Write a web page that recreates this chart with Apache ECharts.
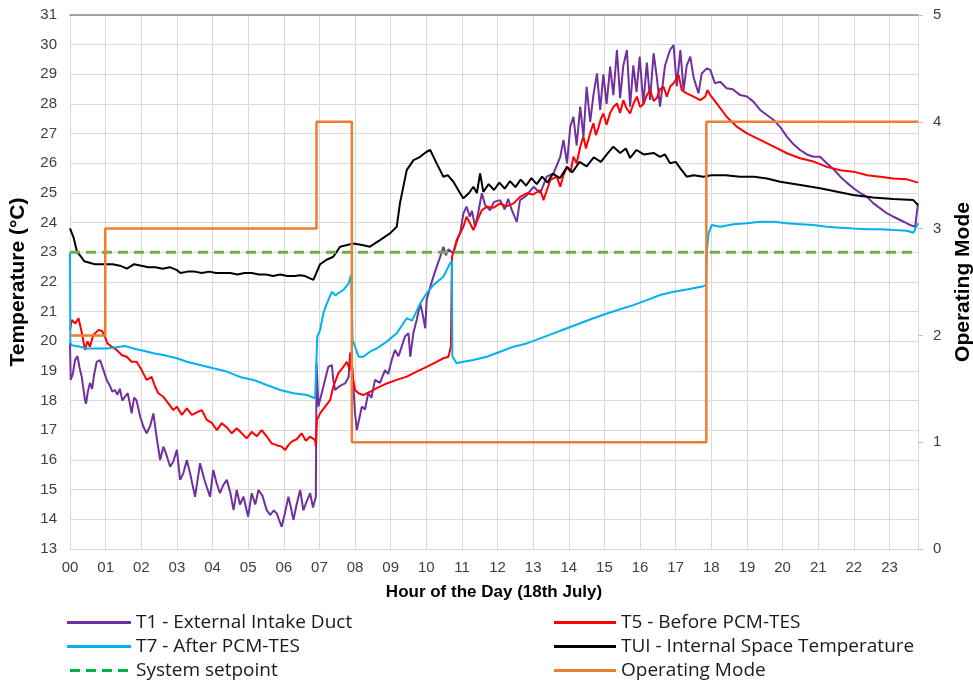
<!DOCTYPE html>
<html><head><meta charset="utf-8">
<script src="https://cdn.jsdelivr.net/npm/echarts@6/dist/echarts.min.js"></script>
<style>html,body{margin:0;padding:0;background:#fff}#c{width:973px;height:683px}</style>
</head><body><div id="c"></div>
<script>
// ---- data (hours, °C) ----
const hourTicks = ['00','01','02','03','04','05','06','07','08','09','10','11','12','13','14','15','16','17','18','19','20','21','22','23'];
const T1 = [[0,19.94],[0.02,18.7],[0.08,18.9],[0.14,19.37],[0.21,19.5],[0.27,19.1],[0.33,18.8],[0.42,18.02],[0.45,17.9],[0.5,18.3],[0.56,18.6],[0.62,18.4],[0.68,18.9],[0.75,19.31],[0.84,19.37],[0.94,19.03],[1.03,18.7],[1.12,18.5],[1.19,18.3],[1.26,18.36],[1.33,18.2],[1.4,18.4],[1.47,18.0],[1.54,18.13],[1.62,18.25],[1.68,17.9],[1.73,17.57],[1.8,18.1],[1.87,18.0],[1.97,17.46],[2.06,17.12],[2.15,16.9],[2.25,17.15],[2.34,17.57],[2.43,16.78],[2.53,16.0],[2.62,16.45],[2.7,16.2],[2.81,15.77],[2.9,15.95],[3.0,16.34],[3.09,15.33],[3.18,15.55],[3.28,16.0],[3.38,15.5],[3.51,14.76],[3.65,15.89],[3.78,15.3],[3.93,14.76],[4.02,15.66],[4.12,15.2],[4.21,14.88],[4.3,15.15],[4.4,15.33],[4.5,14.9],[4.59,14.31],[4.68,14.99],[4.77,14.5],[4.87,14.76],[5.0,14.09],[5.1,14.88],[5.2,14.5],[5.29,14.99],[5.4,14.8],[5.52,14.31],[5.62,14.15],[5.72,14.3],[5.8,14.2],[5.94,13.75],[6.03,14.2],[6.13,14.76],[6.2,14.4],[6.27,13.98],[6.36,14.5],[6.46,14.99],[6.55,14.3],[6.64,14.6],[6.74,14.88],[6.82,14.4],[6.9,14.76],[6.92,19.26],[6.97,17.8],[7.11,18.47],[7.25,19.14],[7.35,19.2],[7.39,18.7],[7.44,18.36],[7.58,18.5],[7.72,18.58],[7.82,18.8],[7.86,19.6],[7.91,19.3],[8.0,17.57],[8.05,17.01],[8.12,17.4],[8.19,17.8],[8.28,17.7],[8.37,18.25],[8.46,18.1],[8.56,18.7],[8.7,18.6],[8.84,19.03],[8.93,18.9],[9.03,19.37],[9.12,19.71],[9.22,19.5],[9.31,19.82],[9.4,20.16],[9.5,20.27],[9.55,19.48],[9.64,20.3],[9.73,20.72],[9.83,21.28],[9.9,20.9],[9.97,20.44],[10.01,21.39],[10.11,21.84],[10.2,22.18],[10.29,22.51],[10.39,22.85],[10.48,23.19],[10.55,22.9],[10.62,23.1],[10.76,22.97],[10.85,23.41],[10.95,23.64],[11.04,24.31],[11.13,24.54],[11.22,24.2],[11.28,24.4],[11.37,23.86],[11.45,24.3],[11.56,24.99],[11.65,24.6],[11.79,24.42],[11.9,24.7],[12.07,24.76],[12.2,24.45],[12.3,24.8],[12.4,24.42],[12.54,24.03],[12.63,24.76],[12.8,24.9],[13.01,25.21],[13.2,25.0],[13.38,25.55],[13.57,25.66],[13.76,26.22],[13.85,26.79],[13.95,26.0],[14.04,27.23],[14.13,27.57],[14.22,26.6],[14.32,27.91],[14.41,26.9],[14.5,28.58],[14.6,27.4],[14.69,28.3],[14.79,29.03],[14.88,27.8],[14.97,29.0],[15.06,28.0],[15.16,29.26],[15.25,28.3],[15.35,29.82],[15.44,28.2],[15.53,29.3],[15.63,29.82],[15.72,27.91],[15.81,29.3],[15.9,28.4],[15.99,29.6],[16.09,28.0],[16.19,29.4],[16.28,28.14],[16.38,29.71],[16.47,28.9],[16.56,27.91],[16.7,29.3],[16.84,29.82],[16.94,29.99],[17.03,28.6],[17.13,29.82],[17.22,28.47],[17.31,29.3],[17.41,29.6],[17.5,28.9],[17.64,28.36],[17.73,29.03],[17.87,29.2],[17.97,29.15],[18.1,28.7],[18.25,28.75],[18.43,28.53],[18.6,28.5],[18.81,28.3],[19.0,28.25],[19.18,28.08],[19.37,27.8],[19.56,27.63],[19.75,27.46],[19.93,27.23],[20.12,26.9],[20.3,26.65],[20.49,26.45],[20.68,26.3],[20.87,26.22],[21.05,26.22],[21.24,26.0],[21.43,25.8],[21.62,25.55],[21.8,25.35],[21.99,25.16],[22.18,25.0],[22.37,24.87],[22.55,24.65],[22.74,24.48],[22.93,24.31],[23.11,24.2],[23.3,24.09],[23.45,24.0],[23.58,23.92],[23.72,23.86],[23.8,24.65]];
const T5 = [[0,20.38],[0.05,20.72],[0.15,20.6],[0.24,20.78],[0.33,20.3],[0.42,19.71],[0.49,20.0],[0.56,19.82],[0.65,20.21],[0.8,20.38],[0.9,20.35],[0.98,20.16],[1.05,19.93],[1.17,19.82],[1.31,19.71],[1.45,19.54],[1.59,19.48],[1.73,19.31],[1.87,19.31],[2.01,19.03],[2.15,18.7],[2.29,18.8],[2.39,18.47],[2.48,18.25],[2.62,18.13],[2.76,17.91],[2.9,17.68],[3.0,17.8],[3.14,17.52],[3.28,17.74],[3.42,17.52],[3.55,17.6],[3.7,17.68],[3.84,17.35],[3.98,17.25],[4.12,17.01],[4.26,17.24],[4.4,17.1],[4.54,16.9],[4.68,17.07],[4.82,16.9],[4.96,16.73],[5.1,16.95],[5.24,16.8],[5.38,17.01],[5.52,16.8],[5.66,16.56],[5.8,16.5],[5.94,16.45],[6.04,16.34],[6.13,16.5],[6.22,16.62],[6.36,16.7],[6.5,16.9],[6.62,16.65],[6.74,16.79],[6.88,16.67],[6.9,16.45],[6.93,17.35],[7.02,17.57],[7.16,17.8],[7.3,18.02],[7.39,18.47],[7.53,18.92],[7.67,19.14],[7.77,19.31],[7.86,19.03],[7.88,19.65],[7.95,18.7],[8.0,18.36],[8.1,18.25],[8.23,18.19],[8.42,18.3],[8.61,18.42],[8.89,18.58],[9.17,18.7],[9.45,18.81],[9.73,18.98],[10.01,19.14],[10.29,19.31],[10.48,19.43],[10.62,19.48],[10.69,19.82],[10.72,22.85],[10.81,23.19],[10.9,23.53],[11.04,23.86],[11.13,24.2],[11.22,24.0],[11.32,23.75],[11.44,24.1],[11.56,24.42],[11.7,24.54],[11.88,24.5],[12.07,24.65],[12.25,24.55],[12.45,24.65],[12.63,24.87],[12.82,24.99],[13.0,24.95],[13.2,25.1],[13.29,24.76],[13.48,25.44],[13.66,25.55],[13.76,25.21],[13.85,25.6],[13.95,25.88],[14.05,25.7],[14.13,26.22],[14.22,26.0],[14.32,26.56],[14.41,26.9],[14.48,26.5],[14.55,26.8],[14.62,27.1],[14.69,27.35],[14.76,26.95],[14.83,27.2],[14.9,27.5],[14.97,27.68],[15.06,27.3],[15.16,27.7],[15.25,27.9],[15.35,28.02],[15.44,27.7],[15.53,28.13],[15.62,27.85],[15.72,27.68],[15.81,28.0],[15.91,28.25],[16.0,27.9],[16.1,28.0],[16.19,28.3],[16.28,28.47],[16.38,28.1],[16.47,28.2],[16.56,28.5],[16.66,28.58],[16.75,28.25],[16.85,28.6],[16.94,28.7],[17.08,28.98],[17.17,28.47],[17.31,28.36],[17.5,28.25],[17.69,28.13],[17.83,28.25],[17.89,28.47],[17.97,28.3],[18.15,28.02],[18.43,27.57],[18.72,27.23],[19.0,27.01],[19.37,26.79],[19.75,26.56],[20.12,26.34],[20.49,26.17],[20.87,26.06],[21.24,25.88],[21.62,25.77],[21.99,25.72],[22.37,25.6],[22.74,25.55],[23.11,25.49],[23.49,25.46],[23.8,25.35]];
const T7 = [[0,23.0],[0.01,19.94],[0.05,19.87],[0.28,19.82],[0.47,19.76],[0.75,19.76],[1.03,19.76],[1.3,19.8],[1.54,19.84],[1.78,19.76],[2.06,19.68],[2.34,19.6],[2.62,19.54],[3.0,19.43],[3.28,19.31],[3.65,19.2],[4.02,19.09],[4.4,18.98],[4.77,18.8],[5.15,18.7],[5.52,18.53],[5.9,18.36],[6.27,18.25],[6.65,18.19],[6.88,18.08],[6.93,18.13],[6.94,20.16],[7.02,20.38],[7.11,20.94],[7.21,21.28],[7.35,21.67],[7.45,21.55],[7.53,21.62],[7.67,21.73],[7.82,21.95],[7.89,22.25],[7.91,21.17],[7.93,20.04],[8.0,19.82],[8.1,19.48],[8.23,19.48],[8.42,19.65],[8.61,19.76],[8.89,19.99],[9.17,20.27],[9.45,20.78],[9.6,20.7],[9.83,21.28],[10.01,21.62],[10.2,21.9],[10.48,22.18],[10.67,22.63],[10.72,22.7],[10.73,19.5],[10.85,19.26],[11.04,19.31],[11.32,19.37],[11.7,19.48],[12.07,19.65],[12.45,19.82],[12.82,19.93],[13.2,20.1],[13.57,20.27],[13.95,20.44],[14.32,20.61],[14.69,20.78],[15.07,20.94],[15.44,21.08],[15.81,21.22],[16.19,21.39],[16.56,21.56],[16.94,21.67],[17.31,21.75],[17.78,21.86],[17.85,21.9],[17.87,22.97],[17.92,23.64],[18.01,23.92],[18.25,23.86],[18.62,23.95],[19.0,23.98],[19.37,24.03],[19.75,24.03],[20.12,23.98],[20.49,23.95],[20.87,23.92],[21.24,23.86],[21.62,23.83],[21.99,23.8],[22.37,23.78],[22.74,23.78],[23.11,23.75],[23.49,23.73],[23.67,23.66],[23.8,23.98]];
const TUI = [[0,23.81],[0.1,23.5],[0.2,23.0],[0.28,22.9],[0.4,22.7],[0.55,22.65],[0.7,22.6],[1.0,22.6],[1.2,22.6],[1.4,22.55],[1.6,22.45],[1.8,22.6],[2.0,22.55],[2.2,22.5],[2.4,22.5],[2.6,22.45],[2.8,22.5],[3.0,22.4],[3.1,22.3],[3.3,22.35],[3.5,22.35],[3.7,22.3],[3.9,22.35],[4.1,22.3],[4.3,22.3],[4.5,22.3],[4.7,22.25],[4.9,22.3],[5.1,22.3],[5.3,22.25],[5.5,22.25],[5.7,22.2],[5.9,22.25],[6.1,22.2],[6.3,22.2],[6.46,22.23],[6.6,22.2],[6.83,22.07],[7.02,22.6],[7.2,22.75],[7.39,22.85],[7.58,23.19],[7.95,23.3],[8.2,23.25],[8.42,23.19],[8.7,23.41],[8.98,23.64],[9.17,23.86],[9.26,24.65],[9.45,25.77],[9.64,26.11],[9.8,26.2],[10.01,26.39],[10.11,26.45],[10.29,26.0],[10.48,25.55],[10.6,25.6],[10.76,25.38],[10.95,24.99],[11.04,24.82],[11.2,25.0],[11.32,25.21],[11.42,25.0],[11.51,25.66],[11.6,25.04],[11.75,25.3],[11.9,25.1],[12.05,25.35],[12.2,25.15],[12.35,25.4],[12.5,25.2],[12.65,25.45],[12.8,25.25],[12.95,25.5],[13.1,25.3],[13.25,25.55],[13.4,25.35],[13.55,25.65],[13.75,25.5],[13.95,25.88],[14.1,25.7],[14.3,26.05],[14.5,25.9],[14.7,26.2],[14.9,26.05],[15.1,26.35],[15.25,26.56],[15.44,26.35],[15.6,26.5],[15.72,26.18],[15.9,26.45],[16.1,26.3],[16.38,26.35],[16.56,26.22],[16.7,26.3],[16.84,26.0],[17.0,26.05],[17.13,25.83],[17.31,25.55],[17.5,25.6],[17.78,25.55],[18.0,25.6],[18.4,25.6],[18.8,25.55],[19.2,25.55],[19.56,25.49],[19.93,25.38],[20.5,25.27],[21.05,25.16],[21.5,25.05],[21.98,24.93],[22.54,24.85],[23.1,24.8],[23.67,24.76],[23.8,24.59]];
const SETPOINT = [[0,23],[23.7,23]];
const MODE = [[0,2],[0.99,3],[6.92,4],[7.91,1],[17.86,4],[23.8,4]];
const names = ['T1 - External Intake Duct','T5 - Before PCM-TES','T7 - After PCM-TES','TUI - Internal Space Temperature','System setpoint','Operating Mode'];

const chart = echarts.init(document.getElementById('c'), null, {renderer:'canvas'});
const AX = 'Liberation Sans, Arial, sans-serif';
const LG = 'Open Sans, sans-serif';
const gridC = '#d9d9d9';
const dashIcon = 'path://M0 0H10V3H0Z M16 0H26V3H16Z M32 0H42V3H32Z M48 0H58V3H48Z';
function line(name, data, color, w, extra) {
  return Object.assign({name, type:'line', data, showSymbol:false, symbol:'none', animation:false,
    lineStyle:{color, width:w}, itemStyle:{color}}, extra||{});
}
const legendText = {fontFamily:LG, fontSize:19, color:'#1a1a1a', lineHeight:18};
chart.setOption({
  animation:false,
  grid:{left:70, right:55, top:15, bottom:134, containLabel:false, outerBoundsMode:'none'},
  xAxis:[{type:'value', min:0, max:23.8, interval:1,
    axisLine:{show:true, onZero:false, lineStyle:{color:gridC}}, axisTick:{show:false},
    splitLine:{show:true, lineStyle:{color:gridC}},
    axisLabel:{fontFamily:AX, fontSize:15, color:'#404040', margin:11,
      formatter:v => (Number.isInteger(v) ? hourTicks[v] : ''), showMaxLabel:false},
    name:'Hour of the Day (18th July)', nameLocation:'middle', nameGap:35,
    nameTextStyle:{fontFamily:AX, fontSize:17, fontWeight:'bold', color:'#000'}},
   {type:'value', position:'top', min:0, max:23.8, axisLine:{show:true, onZero:false, lineStyle:{color:'#8c8c8c', width:1.5}},
    axisTick:{show:false}, axisLabel:{show:false}, splitLine:{show:false}}],
  yAxis:[{type:'value', min:13, max:31, interval:1,
    axisLine:{show:true, onZero:false, lineStyle:{color:gridC}}, axisTick:{show:false},
    splitLine:{show:true, lineStyle:{color:gridC}},
    axisLabel:{fontFamily:AX, fontSize:15, color:'#404040', margin:13},
    name:'Temperature (°C)', nameLocation:'middle', nameGap:41, nameRotate:90,
    nameTextStyle:{fontFamily:AX, fontSize:21, fontWeight:'bold', color:'#000'}},
   {type:'value', min:0, max:5, interval:1, position:'right',
    axisLine:{show:true, onZero:false, lineStyle:{color:gridC}},
    axisTick:{show:true, inside:false, length:5, lineStyle:{color:'#bfbfbf'}},
    splitLine:{show:false},
    axisLabel:{fontFamily:AX, fontSize:15, color:'#404040', margin:15},
    name:'Operating Mode', nameLocation:'middle', nameGap:28, nameRotate:90,
    nameTextStyle:{fontFamily:AX, fontSize:21, fontWeight:'bold', color:'#000'}}],
  legend:[
    {data:[{name:names[0], icon:'rect'},{name:names[2], icon:'rect'},{name:names[4], icon:dashIcon, itemStyle:{color:'#00b050'}}],
     orient:'vertical', left:67, top:613, padding:0, itemWidth:64, itemHeight:3, itemGap:5, textStyle:legendText},
    {data:[{name:names[1], icon:'rect'},{name:names[3], icon:'rect'},{name:names[5], icon:'rect'}],
     orient:'vertical', left:554, top:613, padding:0, itemWidth:62, itemHeight:3, itemGap:5, textStyle:legendText}
  ],
  series:[
    line(names[0], T1, '#7030a0', 2),
    line(names[1], T5, '#ff0000', 2),
    line(names[2], T7, '#00b0f0', 2),
    line(names[3], TUI, '#000000', 2),
    line(names[4], SETPOINT, '#70ad47', 3, {lineStyle:{color:'#70ad47', width:3, type:[10,6]}}),
    line(names[5], MODE, '#ed7d31', 2.5, {yAxisIndex:1, step:'end'})
  ]
});
</script></body></html>
